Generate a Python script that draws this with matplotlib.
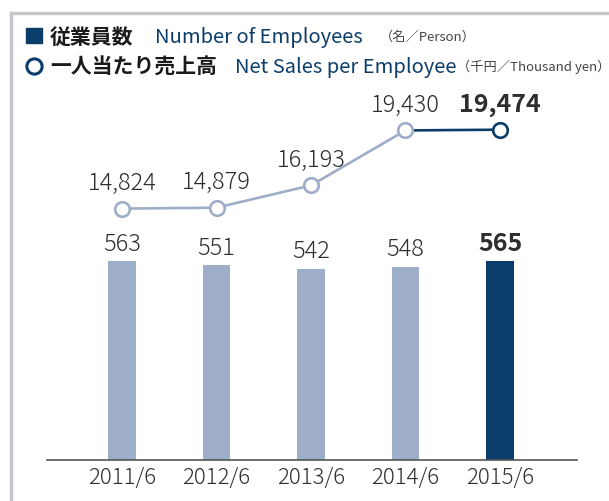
import matplotlib
matplotlib.use("Agg")
import matplotlib.pyplot as plt
from matplotlib.lines import Line2D
from matplotlib.patches import Rectangle

plt.rcParams['font.family'] = ['Noto Sans CJK JP', 'DejaVu Sans']

# data
years = ["2011/6", "2012/6", "2013/6", "2014/6", "2015/6"]
employees = [563, 551, 542, 548, 565]
sales_per_emp = [14824, 14879, 16193, 19430, 19474]

LIGHT = "#9eadc8"
DARK = "#0b3d6a"
TEXT = "#2e2e2e"

fig = plt.figure(figsize=(6.09, 5.02), dpi=100)
W, H = 609, 502

# grey frame (top and left)
fig.add_artist(Line2D([10.5 / W, 1.0], [1 - 13.5 / H, 1 - 13.5 / H], color="#c6c6ca", lw=2.4))
fig.add_artist(Line2D([10.5 / W, 10.5 / W], [0, 1 - 13.5 / H], color="#c6c6ca", lw=2.4))

ax = fig.add_axes([47 / W, 1 - 460.5 / H, 530 / W, 370.5 / H])
ax2 = ax.twinx()

x = list(range(len(years)))
bar_colors = [LIGHT] * (len(years) - 1) + [DARK]
ax.bar(x, employees, width=0.29, color=bar_colors, zorder=2)
ax.set_xlim(-0.794, 4.815)
ax.set_ylim(0, 1052)

for i, v in enumerate(employees):
    last = i == len(employees) - 1
    ax.annotate(f"{v:,}", (i, v), xytext=(0, 4), textcoords="offset points",
                ha="center", va="bottom", fontsize=18 if last else 17,
                fontweight="bold" if last else "light", color=TEXT)

# line: light for the first segments, dark for the last
ax2.plot(x[:-1], sales_per_emp[:-1], color=LIGHT, lw=1.9, zorder=3)
ax2.plot(x[-2:], sales_per_emp[-2:], color=DARK, lw=1.9, zorder=3)
for i, v in enumerate(sales_per_emp):
    ec = DARK if i == len(sales_per_emp) - 1 else LIGHT
    ax2.plot(i, v, "o", ms=10.5, mfc="white", mec=ec, mew=1.9, zorder=4)
    last = i == len(sales_per_emp) - 1
    ax2.annotate(f"{v:,}", (i, v), xytext=(0, 10), textcoords="offset points",
                 ha="center", va="bottom", fontsize=18 if last else 17,
                 fontweight="bold" if last else "light", color=TEXT)
ax2.set_ylim(43, 21871)

for a in (ax, ax2):
    for s in ("top", "right", "left"):
        a.spines[s].set_visible(False)
    a.set_yticks([])
ax.spines["bottom"].set_color("#555555")
ax.spines["bottom"].set_linewidth(1.2)
ax2.spines["bottom"].set_visible(False)
ax.set_xticks(x)
ax.set_xticklabels(years, fontsize=16, fontweight="light", color=TEXT)
ax.tick_params(axis="x", length=0, pad=5)

# legend header
fig.add_artist(Rectangle((26 / W, 1 - 44 / H), 16 / W, 15 / H, color=DARK))
fig.add_artist(Line2D([34 / W], [1 - 66.5 / H], marker="o", ms=11, mfc="white",
                      mec=DARK, mew=2.2))
row1, row2 = 1 - 37 / H, 1 - 67 / H
fig.text(50 / W, row1, "従業員数", fontsize=15, fontweight="bold", color="#1a1a1a", va="center")
fig.text(155 / W, row1, "Number of Employees", fontsize=14.5, color=DARK, va="center")
fig.text(380 / W, row1, "（名／Person）", fontsize=9.5, color="#444444", va="center")
fig.text(50 / W, row2, "一人当たり売上高", fontsize=15, fontweight="bold", color="#1a1a1a", va="center")
fig.text(235 / W, row2, "Net Sales per Employee", fontsize=14.5, color=DARK, va="center")
fig.text(457 / W, row2, "（千円／Thousand yen）", fontsize=9.5, color="#444444", va="center")

fig.savefig("out.png", dpi=100)
